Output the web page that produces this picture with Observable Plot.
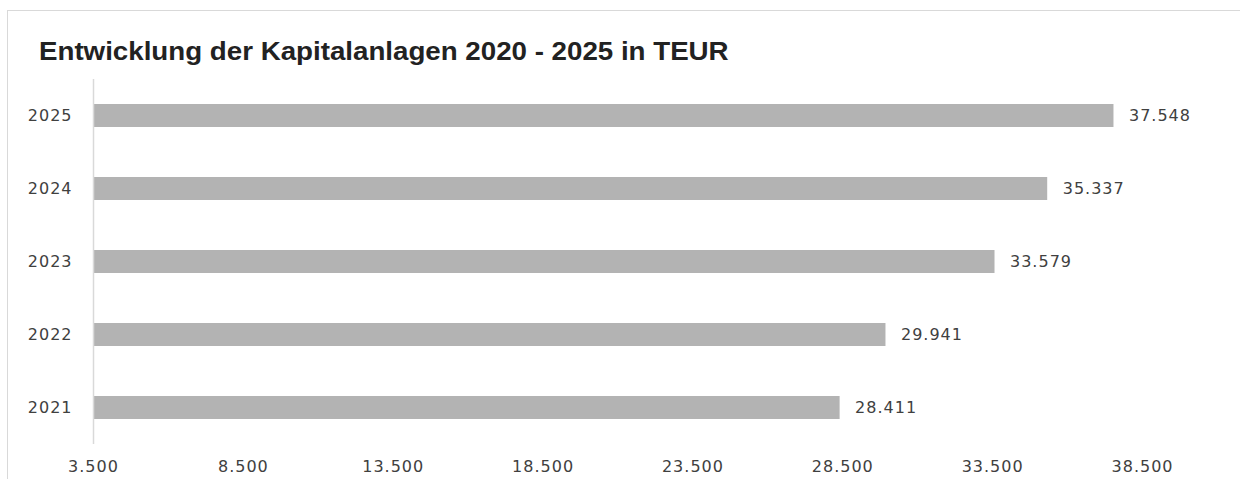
<!DOCTYPE html>
<html><head><meta charset="utf-8">
<script src="https://cdn.jsdelivr.net/npm/d3@7"></script>
<script src="https://cdn.jsdelivr.net/npm/@observablehq/plot@0.6"></script>
<style>
html,body{margin:0;padding:0;background:#fff;}
#wrap{position:relative;width:1240px;height:479px;overflow:hidden;}
#frame{position:absolute;left:7px;top:10px;width:1240px;height:480px;border:1px solid #d9d9d9;box-sizing:border-box;}
#title{position:absolute;left:39px;top:37px;font-family:"Liberation Sans",Arial,sans-serif;font-weight:bold;font-size:25px;color:#222;white-space:nowrap;transform:scaleX(1.108);transform-origin:0 0;}
#chart{position:absolute;left:0;top:0;}
#chart svg text{letter-spacing:1px;}
</style></head>
<body><div id="wrap"><div id="frame"></div><div id="title">Entwicklung der Kapitalanlagen 2020 - 2025 in TEUR</div><div id="chart"></div></div>
<script>
const years = ["2025","2024","2023","2022","2021"];
const values = [37548, 35337, 33579, 29941, 28411];
const xTicks = [3500, 8500, 13500, 18500, 23500, 28500, 33500, 38500];

const de = d3.formatLocale({decimal: ",", thousands: ".", grouping: [3], currency: ["", " €"]});
const fmt = de.format(",.0f");
const data = years.map((y, i) => ({year: y, value: values[i]}));
const font = "'DejaVu Sans', sans-serif";

const chart = Plot.plot({
  width: 1240,
  height: 479,
  marginTop: 79,
  marginBottom: 35,
  marginLeft: 93,
  marginRight: 98,
  style: {fontFamily: font, fontSize: "16px", color: "#404040", background: "transparent"},
  x: {domain: [3500, 38500], ticks: xTicks, tickFormat: fmt, label: null},
  y: {domain: years, paddingInner: 0.685, paddingOuter: 0.3425, label: null},
  marks: [
    Plot.barX(data, {x1: 3500, x2: "value", y: "year", fill: "#b3b3b3"}),
    Plot.ruleX([3500], {stroke: "#d9d9d9", strokeWidth: 1.5}),
    Plot.text(data, {x: "value", y: "year", text: d => fmt(d.value), textAnchor: "start", dx: 15, fill: "#404040", fontSize: 16}),
    Plot.axisX({ticks: xTicks, tickFormat: fmt, tickSize: 0, tickPadding: 16, label: null, fill: "#404040"}),
    Plot.axisY({tickSize: 0, tickPadding: 21, label: null, fill: "#404040"})
  ]
});
document.getElementById("chart").appendChild(chart);
</script>
</body></html>
